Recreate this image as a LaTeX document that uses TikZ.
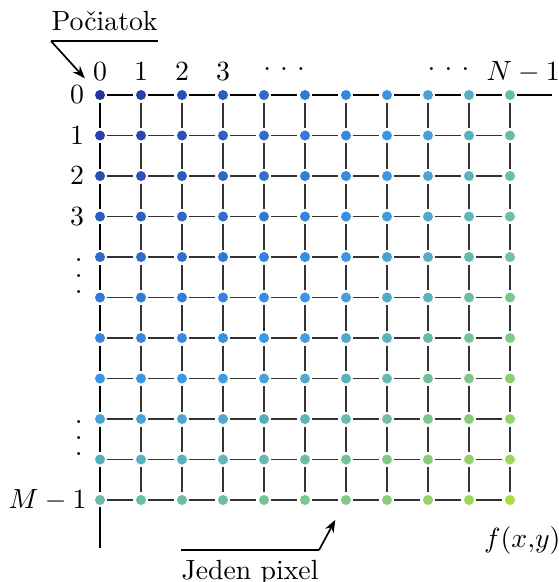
\documentclass[tikz,border=0pt]{standalone}
\usepackage{amsmath,amssymb}
\usepackage{xcolor}
\usepackage{tikz}
\usetikzlibrary{positioning,arrows.meta,calc}
\definecolor{pxlow}{RGB}{35,50,170}
\definecolor{pxmid}{RGB}{50,150,245}
\definecolor{pxteal}{RGB}{100,190,170}
\definecolor{pxhigh}{RGB}{165,225,60}
\newcommand{\hdotsw}{\hbox{.\kern3.3pt.\kern3.3pt.}}
\newcommand{\vdotsw}{\vbox{\baselineskip5.8pt\lineskiplimit0pt\hbox{.}\hbox{.}\hbox{.}}}
\tikzset{
  pixel/.style={circle, inner sep=0pt, minimum size=3.6pt, outer sep=0.9pt},
  gridline/.style={line width=0.4pt, black!80},
  topline/.style={line width=0.55pt, black},
  axisline/.style={line width=0.9pt, black},
  arrow/.style={-{Stealth[length=1.6mm]}, semithick},
  leader/.style={inner xsep=0pt},
}

\begin{document}
\begin{tikzpicture}[x=14.76pt, y=-14.58pt]
  \useasboundingbox (-2.439,-2.346) rectangle (11.195,12.025);
  % pixels, colour by distance from the origin
  \foreach \i in {0,...,10}{
    \foreach \j in {0,...,10}{
      \pgfmathsetmacro\rad{sqrt(\i*\i+\j*\j)/sqrt(200)*100}
      \ifdim\rad pt<50pt
        \pgfmathsetmacro\pct{\rad*2}
        \colorlet{dotcol}{pxmid!\pct!pxlow}
      \else\ifdim\rad pt<71pt
        \pgfmathsetmacro\pct{(\rad-50)/21*100}
        \colorlet{dotcol}{pxteal!\pct!pxmid}
      \else
        \pgfmathsetmacro\pct{min((\rad-71)/29*100,100)}
        \colorlet{dotcol}{pxhigh!\pct!pxteal}
      \fi\fi
      \node[pixel, fill=dotcol] (p-\i-\j) at (\i,\j) {};
    }
  }

  % grid
  \foreach \i in {0,...,9}{
    \pgfmathtruncatemacro\k{\i+1}
    \foreach \j in {0,...,10}{
      \ifnum\j=0 \def\vstyle{axisline}\def\hstyle{topline}\else\def\vstyle{gridline}\def\hstyle{gridline}\fi
      \draw[\hstyle] (p-\i-\j) -- (p-\k-\j);
      \draw[\vstyle] (p-\j-\i) -- (p-\j-\k);
    }
  }
  \coordinate (xend) at (11.02,0);
  \coordinate (yend) at (0,11.19);
  \draw[topline] (p-10-0) -- (xend);
  \draw[axisline] (p-0-10) -- (yend);

  % indices
  \foreach \i in {0,...,3}{
    \node[anchor=base] (c-\i) at (\i,-0.37) {$\i$};
    \node (r-\i) at (-0.56,\i) {$\i$};
  }
  \node[inner sep=0pt] (cdots-a) at (4.49,-0.64) {\hdotsw};
  \node[inner sep=0pt] (cdots-b) at (8.5,-0.64) {\hdotsw};
  \node[anchor=base] (cn) at (10.32,-0.37) {$N-1$};
  \node[inner sep=0pt] (vdots-a) at (-0.52,4.47) {\vdotsw};
  \node[inner sep=0pt] (vdots-b) at (-0.52,8.47) {\vdotsw};
  \node (rm) at (-1.28,10) {$M-1$};
  \node[inner sep=1pt] (fxy) at (10.3,11.0) {$f(x{,}y)$};

  % callouts
  \node[leader, anchor=south west] (start) at (-1.195,-1.333) {Počiatok};
  \draw[semithick] (start.south west) -- (start.south east);
  \draw[arrow, shorten >=5.4pt] (start.south west) -- (p-0-0);
  \node[leader, anchor=north west] (onepx) at (1.976,11.235) {Jeden pixel};
  \draw[semithick] (onepx.north west) -- (onepx.north east);
  \draw[arrow, shorten >=5.4pt] (onepx.north east) -- (p-6-10);
\end{tikzpicture}
\end{document}
